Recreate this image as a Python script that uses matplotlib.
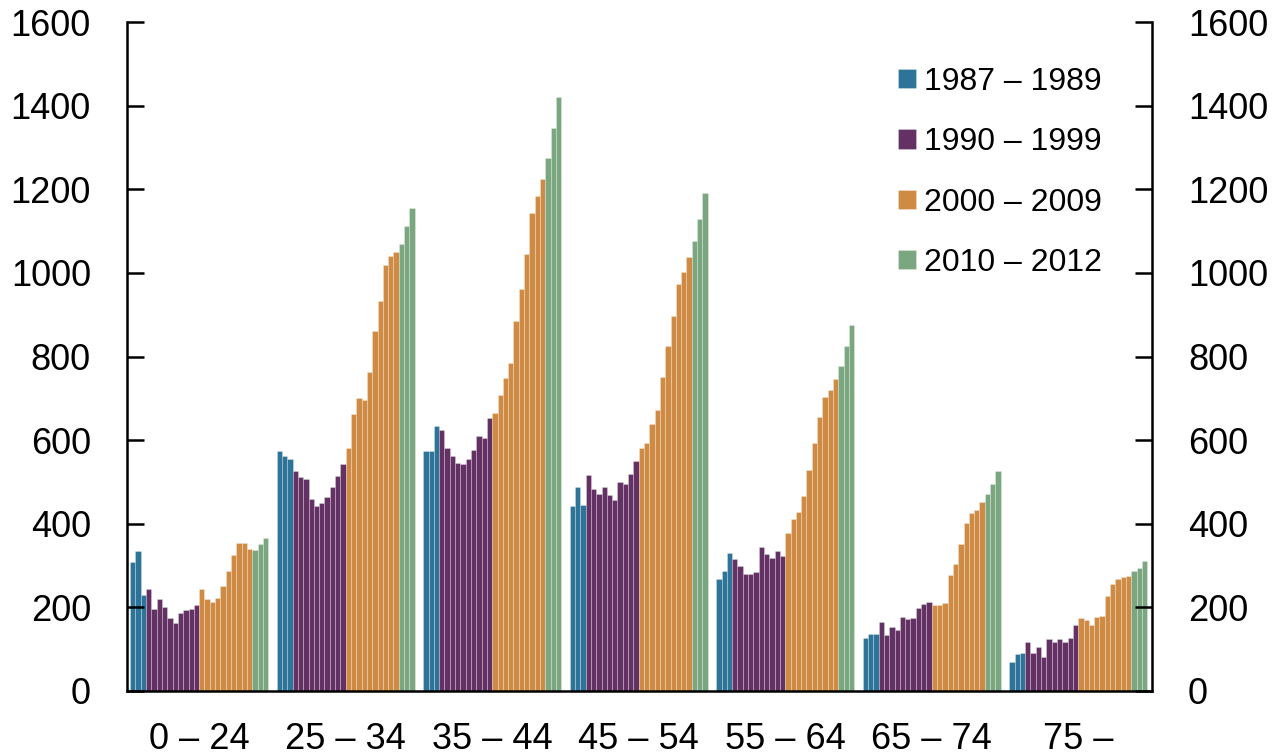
import numpy as np
import matplotlib
matplotlib.use("Agg")
import matplotlib.pyplot as plt

plt.rcParams['font.family'] = ['Liberation Sans', 'DejaVu Sans']

# Age groups and yearly values 1987-2012 (26 per group)
age_groups = ["0 – 24", "25 – 34", "35 – 44", "45 – 54", "55 – 64", "65 – 74", "75 –"]
years = list(range(1987, 2013))

values_0_24 = [308, 334, 230, 244, 197, 220, 200, 175, 163, 186, 193, 196, 206,
               245, 220, 212, 222, 251, 288, 326, 355, 354, 339, 338, 352, 365]
values_25_34 = [575, 563, 556, 527, 511, 508, 460, 442, 449, 465, 488, 514, 543,
                581, 662, 700, 697, 763, 861, 933, 1020, 1040, 1051, 1069, 1112, 1155]
values_35_44 = [575, 575, 634, 624, 580, 561, 545, 542, 556, 577, 611, 605, 652,
                666, 707, 748, 785, 884, 962, 1044, 1143, 1185, 1225, 1274, 1347, 1421]
values_45_54 = [443, 489, 444, 516, 484, 472, 489, 469, 457, 500, 496, 518, 551,
                582, 593, 638, 672, 752, 825, 896, 974, 1002, 1038, 1076, 1130, 1191]
values_55_64 = [269, 288, 330, 316, 300, 279, 281, 285, 345, 327, 317, 334, 322,
                377, 412, 429, 467, 528, 594, 655, 704, 719, 747, 778, 825, 875]
values_65_74 = [127, 137, 137, 164, 133, 154, 145, 178, 172, 175, 198, 208, 214,
                206, 206, 210, 278, 304, 352, 402, 425, 432, 451, 470, 494, 526]
values_75 = [69, 89, 92, 117, 91, 105, 82, 124, 117, 124, 116, 126, 158,
             174, 170, 157, 176, 180, 227, 255, 269, 273, 274, 286, 293, 312]

all_values = [values_0_24, values_25_34, values_35_44, values_45_54,
              values_55_64, values_65_74, values_75]

periods = [("1987 – 1989", 1987, 1989, "#2E7499"),
           ("1990 – 1999", 1990, 1999, "#633163"),
           ("2000 – 2009", 2000, 2009, "#CF8B43"),
           ("2010 – 2012", 2010, 2012, "#7AA77F")]

fig = plt.figure(figsize=(12.74, 7.56), dpi=100)
ax = fig.add_axes([127 / 1274, 1 - 691 / 756, (1152 - 127) / 1274, (691 - 22) / 756])

n = len(years)
pitch = n + 1.6
centers = []
for g, vals in enumerate(all_values):
    start = g * pitch
    centers.append(start + n / 2)
    for label, y0, y1, color in periods:
        idx = [i for i, y in enumerate(years) if y0 <= y <= y1]
        ax.bar([start + i for i in idx], [vals[i] for i in idx], width=1, align='edge',
               color=color, edgecolor=(1, 1, 1, 0.3), linewidth=0.6,
               label=label if g == 0 else None)

ax.set_xlim(-0.6, 6 * pitch + n + 0.9)
ax.set_ylim(0, 1600)
ax.set_yticks(range(0, 1601, 200))
ax.set_xticks(centers)
ax.set_xticklabels(age_groups)

ax.spines["top"].set_visible(False)
for side in ["left", "right", "bottom"]:
    ax.spines[side].set_linewidth(1.8)

ax.tick_params(axis='y', direction='in', length=12, width=1.8, labelsize=26,
               pad=26, left=True, right=True, labelleft=True, labelright=True)
ax.tick_params(axis='x', length=0, labelsize=26, pad=22)

ax.legend(loc='upper left', bbox_to_anchor=(898 / 1274, 1 - 67 / 756),
          bbox_transform=fig.transFigure, frameon=False, fontsize=23,
          borderpad=0, borderaxespad=0, handlelength=0.55, handleheight=0.55,
          handletextpad=0.25, labelspacing=0.95)

fig.savefig("out.png", dpi=100)
